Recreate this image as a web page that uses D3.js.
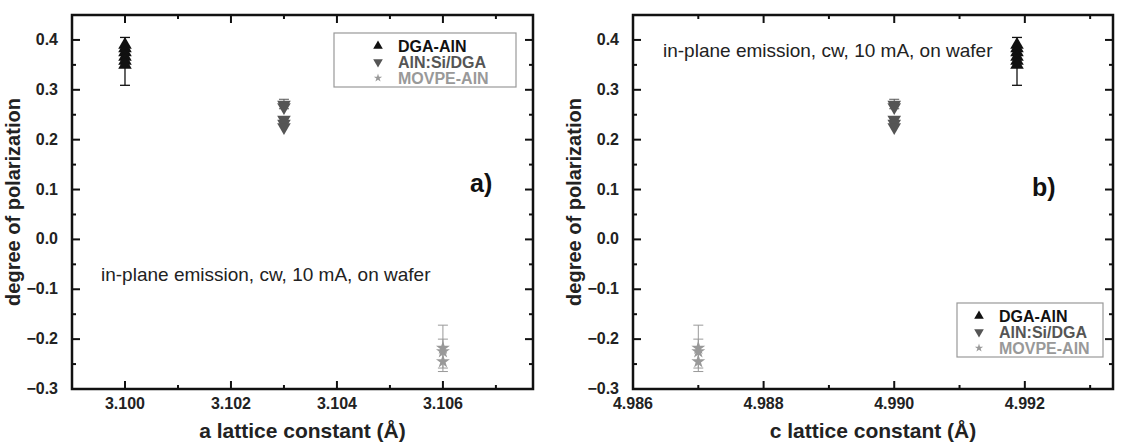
<!DOCTYPE html>
<html>
<head>
<meta charset="utf-8">
<script src="https://cdn.jsdelivr.net/npm/d3@7"></script>
<style>
  body { margin: 0; background: #fff; }
  svg text { font-family: "Liberation Sans", Arial, sans-serif; }
</style>
</head>
<body>
<div id="chart"></div>
<script>
// series names / colours
var seriesNames = ["DGA-AlN", "AlN:Si/DGA", "MOVPE-AlN"];
var seriesColors = ["#111111", "#555555", "#999999"];

// degree of polarization values
var dgaPol = [0.390, 0.383, 0.375, 0.366, 0.358, 0.350];
var siPol = [0.270, 0.265, 0.240, 0.232, 0.225];
var movpePol = [-0.218, -0.225, -0.245];

// lattice constants (a, c) for each series
var aLattice = [3.100, 3.103, 3.106];
var cLattice = [4.99188, 4.990, 4.987];

// error bars [series, low, high]
var errBars = [[0, 0.309, 0.405], [1, 0.262, 0.281], [2, -0.265, -0.172], [2, -0.258, -0.200]];

var yTicks = [-0.3, -0.2, -0.1, 0.0, 0.1, 0.2, 0.3, 0.4];
var aTicks = [3.100, 3.102, 3.104, 3.106];
var cTicks = [4.986, 4.988, 4.990, 4.992];

var svg = d3.select("#chart").append("svg")
    .attr("width", 1121).attr("height", 444);

var y = d3.scaleLinear().domain([-0.3, 0.45]).range([389, 15]);

function drawPanel(opt) {
  var x = d3.scaleLinear().domain(opt.domain).range(opt.range);
  var g = svg.append("g");
  var x0 = opt.range[0], x1 = opt.range[1], y0 = 389, y1 = 15;

  // minor ticks
  var xMinor = d3.range(opt.domain[0], opt.domain[1], 0.001).map(function(v) { return Math.round(v * 1e4) / 1e4; })
      .filter(function(v) { return opt.ticks.indexOf(v) < 0 && x(v) > x0 + 2; });
  var yMinor = d3.range(-0.25, 0.45, 0.1);

  var tk = g.append("g").attr("stroke", "#111").attr("stroke-width", 2);
  opt.ticks.forEach(function(v) {
    tk.append("line").attr("x1", x(v)).attr("x2", x(v)).attr("y1", y0).attr("y2", y0 - 8);
    tk.append("line").attr("x1", x(v)).attr("x2", x(v)).attr("y1", y1).attr("y2", y1 + 8);
  });
  xMinor.forEach(function(v) {
    tk.append("line").attr("x1", x(v)).attr("x2", x(v)).attr("y1", y0).attr("y2", y0 - 4);
    tk.append("line").attr("x1", x(v)).attr("x2", x(v)).attr("y1", y1).attr("y2", y1 + 4);
  });
  yTicks.forEach(function(v) {
    tk.append("line").attr("x1", x0).attr("x2", x0 + 8).attr("y1", y(v)).attr("y2", y(v));
    tk.append("line").attr("x1", x1).attr("x2", x1 - 8).attr("y1", y(v)).attr("y2", y(v));
  });
  yMinor.forEach(function(v) {
    tk.append("line").attr("x1", x0).attr("x2", x0 + 4).attr("y1", y(v)).attr("y2", y(v));
    tk.append("line").attr("x1", x1).attr("x2", x1 - 4).attr("y1", y(v)).attr("y2", y(v));
  });

  g.append("rect").attr("x", x0).attr("y", y1).attr("width", x1 - x0).attr("height", y0 - y1)
    .attr("fill", "none").attr("stroke", "#111").attr("stroke-width", 2.5);

  // tick labels
  g.selectAll(".xl").data(opt.ticks).enter().append("text")
    .attr("x", function(d) { return x(d); }).attr("y", 409)
    .attr("text-anchor", "middle").attr("font-size", 16).attr("font-weight", "bold").attr("fill", "#222")
    .text(function(d) { return d3.format(".3f")(d); });
  g.selectAll(".yl").data(yTicks).enter().append("text")
    .attr("x", x0 - 14).attr("y", function(d) { return y(d) + 5; })
    .attr("text-anchor", "end").attr("font-size", 16).attr("font-weight", "bold").attr("fill", "#222")
    .text(function(d) { return d3.format(".1f")(d); });

  g.append("text").attr("x", (x0 + x1) / 2).attr("y", 438).attr("text-anchor", "middle")
    .attr("font-size", 21).attr("font-weight", "bold").attr("fill", "#222").text(opt.xLabel);
  g.append("text").attr("transform", "translate(" + (x0 - 52) + "," + ((y0 + y1) / 2) + ") rotate(-90)")
    .attr("text-anchor", "middle").attr("font-size", 20).attr("font-weight", "bold").attr("fill", "#222")
    .text("degree of polarization");

  // error bars
  errBars.forEach(function(e) {
    var xx = x(opt.lattice[e[0]]);
    var c = seriesColors[e[0]];
    var w = e[0] === 0 ? 1.3 : 1;
    g.append("line").attr("x1", xx).attr("x2", xx).attr("y1", y(e[1])).attr("y2", y(e[2])).attr("stroke", c).attr("stroke-width", w);
    [e[1], e[2]].forEach(function(v) {
      g.append("line").attr("x1", xx - 5).attr("x2", xx + 5).attr("y1", y(v)).attr("y2", y(v)).attr("stroke", c).attr("stroke-width", w);
    });
  });

  var tri = d3.symbol().type(d3.symbolTriangle).size(80);
  var star = d3.symbol().type(d3.symbolStar).size(60);
  g.selectAll(".dga").data(dgaPol).enter().append("path")
    .attr("d", tri).attr("fill", seriesColors[0])
    .attr("transform", function(d) { return "translate(" + x(opt.lattice[0]) + "," + y(d) + ")"; });
  g.selectAll(".si").data(siPol).enter().append("path")
    .attr("d", tri).attr("fill", seriesColors[1])
    .attr("transform", function(d) { return "translate(" + x(opt.lattice[1]) + "," + y(d) + ") rotate(180)"; });
  g.selectAll(".mo").data(movpePol).enter().append("path")
    .attr("d", star).attr("fill", seriesColors[2])
    .attr("transform", function(d) { return "translate(" + x(opt.lattice[2]) + "," + y(d) + ")"; });

  // legend
  var lg = g.append("g").attr("transform", "translate(" + opt.legend[0] + "," + opt.legend[1] + ")");
  lg.append("rect").attr("width", opt.legend[2]).attr("height", 54).attr("fill", "#fff")
    .attr("stroke", "#999").attr("stroke-width", 1.2);
  seriesNames.forEach(function(n, i) {
    var ly = 13 + i * 16;
    var sym = i === 2 ? d3.symbol().type(d3.symbolStar).size(22) : d3.symbol().type(d3.symbolTriangle).size(40);
    lg.append("path").attr("d", sym).attr("fill", seriesColors[i])
      .attr("transform", "translate(" + opt.legendSym + "," + ly + ")" + (i === 1 ? " rotate(180)" : ""));
    lg.append("text").attr("x", opt.legendSym + 20).attr("y", ly + 6).attr("font-size", 16).attr("font-weight", "bold")
      .attr("fill", seriesColors[i]).text(n);
  });

  g.append("text").attr("x", opt.note[0]).attr("y", opt.note[1]).attr("font-size", 19).attr("fill", "#222")
    .text("in-plane emission, cw, 10 mA, on wafer");
  g.append("text").attr("x", opt.tag[0]).attr("y", opt.tag[1]).attr("font-size", 25).attr("font-weight", "bold")
    .attr("fill", "#111").text(opt.tagText);
}

drawPanel({
  domain: [3.099, 3.1077], range: [72, 533], ticks: aTicks, lattice: aLattice,
  xLabel: "a lattice constant (Å)", legend: [334, 33, 182], legendSym: 44,
  note: [101, 281], tag: [470, 192], tagText: "a)"
});
drawPanel({
  domain: [4.986, 4.99335], range: [633, 1113], ticks: cTicks, lattice: cLattice,
  xLabel: "c lattice constant (Å)", legend: [957, 303, 146], legendSym: 22,
  note: [663, 57], tag: [1032, 196], tagText: "b)"
});
</script>
</body>
</html>
